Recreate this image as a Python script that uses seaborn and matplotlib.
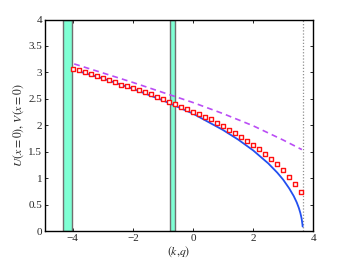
import numpy as np
import pandas as pd
import matplotlib
matplotlib.use("Agg")
import matplotlib.pyplot as plt
import seaborn as sns

# ---- data ----
marker_x = [-4.0, -3.8, -3.6, -3.4, -3.2, -3.0, -2.8, -2.6, -2.4, -2.2,
            -2.0, -1.8, -1.6, -1.4, -1.2, -1.0, -0.8, -0.6, -0.4, -0.2,
            0.0, 0.2, 0.4, 0.6, 0.8, 1.0, 1.2, 1.4, 1.6, 1.8,
            2.0, 2.2, 2.4, 2.6, 2.8, 3.0, 3.2, 3.4, 3.6]
marker_y = [3.07, 3.04, 3.00, 2.97, 2.93, 2.89, 2.85, 2.82, 2.77, 2.735,
            2.70, 2.66, 2.63, 2.585, 2.535, 2.495, 2.445, 2.40, 2.35, 2.305,
            2.255, 2.205, 2.155, 2.11, 2.05, 1.98, 1.915, 1.85, 1.785, 1.71,
            1.63, 1.55, 1.465, 1.37, 1.26, 1.15, 1.03, 0.89, 0.74]

blue_x = [-3.8, -3.0, -2.0, -1.0, 0.0, 1.0, 1.5, 2.0, 2.5, 2.8,
          3.0, 3.2, 3.35, 3.45, 3.52, 3.57, 3.61, 3.64, 3.645]
blue_y = [3.02, 2.885, 2.69, 2.47, 2.22, 1.91, 1.73, 1.525, 1.28, 1.105,
          0.97, 0.805, 0.66, 0.54, 0.435, 0.34, 0.24, 0.12, 0.085]

purple_x = [-3.95, -3.0, -2.0, -1.0, 0.0, 1.0, 2.0, 3.0, 3.62]
purple_y = [3.16, 2.99, 2.81, 2.62, 2.43, 2.22, 1.99, 1.72, 1.54]

bands = [(-4.33, -4.02), (-0.76, -0.60)]
edge_x = 3.65

xticks = [-4, -2, 0, 2, 4]
yticks = [0, 0.5, 1, 1.5, 2, 2.5, 3, 3.5, 4]
ytick_labels = ["0", "0.5", "1", "1.5", "2", "2.5", "3", "3.5", "4"]

# ---- plotting ----
sns.set_style("ticks")
plt.rcParams["font.family"] = ["Liberation Serif", "DejaVu Serif"]
plt.rcParams["mathtext.fontset"] = "stix"

fig = plt.figure(figsize=(3.46, 2.60), dpi=100)
ax = fig.add_axes([0.130, 0.1115, 0.7755, 0.8135])

for a, b in bands:
    ax.axvspan(a, b, facecolor="#7FFFD4", edgecolor="#6E6E6E", linewidth=1.0, zorder=1)

ax.axvline(edge_x, color="#909090", linestyle=(0, (1, 1.5)), linewidth=0.9, zorder=1)

df_p = pd.DataFrame({"x": purple_x, "y": purple_y})
sns.lineplot(data=df_p, x="x", y="y", ax=ax, color="#BA4DF5", linewidth=1.2,
             linestyle=(0, (3.5, 2.5)), zorder=2)

df_b = pd.DataFrame({"x": blue_x, "y": blue_y})
sns.lineplot(data=df_b, x="x", y="y", ax=ax, color="#2350F0", linewidth=1.3, zorder=3)

df_m = pd.DataFrame({"x": marker_x, "y": marker_y})
sns.scatterplot(data=df_m, x="x", y="y", ax=ax, marker="s", s=9,
                facecolor="white", edgecolor="#FF1010", linewidth=1.0, zorder=4)

ax.set_xlim(-4.92, 4.0)
ax.set_ylim(0, 4)
ax.set_xticks(xticks)
ax.set_xticklabels(["\u22124", "\u22122", "0", "2", "4"])
ax.set_yticks(yticks)
ax.set_yticklabels(ytick_labels)
ax.tick_params(direction="in", top=True, right=True, length=2.5, width=0.7,
               labelsize=8, pad=2)
for sp in ax.spines.values():
    sp.set_visible(True)
    sp.set_linewidth(1.0)
    sp.set_color("black")

ax.set_xlabel(r"$(k{,}q)$", fontsize=8.5, labelpad=1)
ax.set_ylabel(r"$U(x=0),\,V(x=0)$", fontsize=8.5, labelpad=2)

fig.savefig("out.png", dpi=100)
